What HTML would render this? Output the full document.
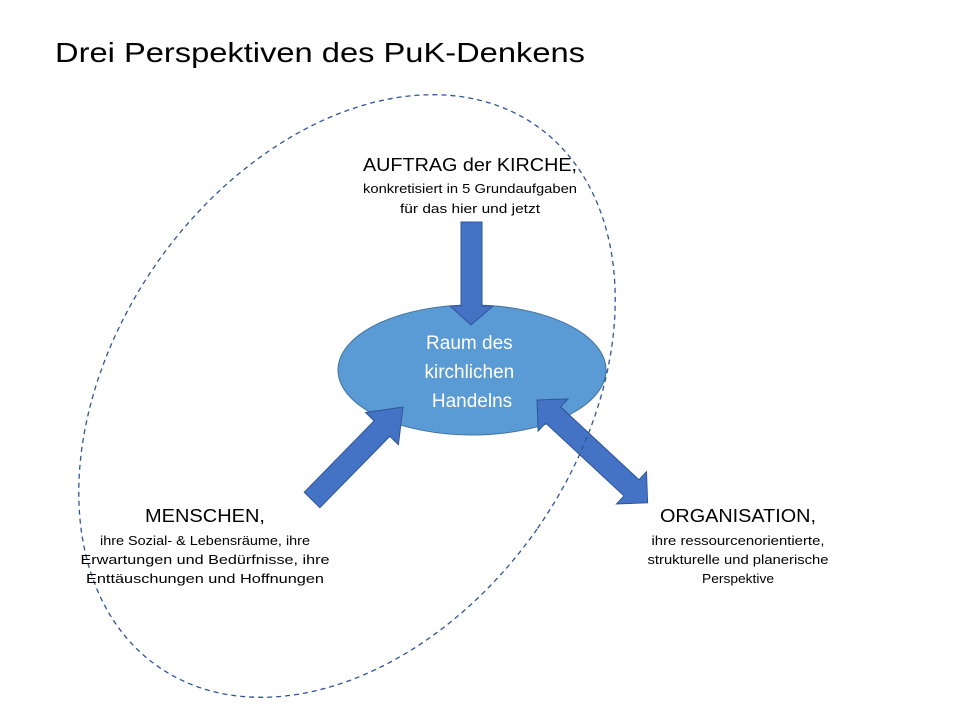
<!DOCTYPE html>
<html><head><meta charset="utf-8"><style>
html,body{margin:0;padding:0;background:#fff;width:960px;height:720px;overflow:hidden;}
svg{display:block;font-family:"Liberation Sans",sans-serif;}
</style></head><body>
<svg width="960" height="720" viewBox="0 0 960 720" xmlns="http://www.w3.org/2000/svg">
<text x="55" y="62" font-size="28" fill="#000" textLength="530" lengthAdjust="spacingAndGlyphs">Drei Perspektiven des PuK-Denkens</text>
<ellipse cx="472" cy="370" rx="134" ry="65" fill="#5b9bd5" stroke="#41719c" stroke-width="1"/>
<text text-anchor="middle" fill="#fff" font-size="19">
<tspan x="472" y="349">Raum des</tspan>
<tspan x="472" y="378">kirchlichen</tspan>
<tspan x="472" y="407">Handelns</tspan>
</text>
<polygon points="461,222 482,222 482,306 493,306 471,325 450,306 461,306" fill="#4472c4" stroke="#2f5597" stroke-width="1"/>
<g transform="translate(312,500) rotate(-45.6)">
<polygon points="0,-11 100,-11 100,-23 130,0 100,23 100,11 0,11" fill="#4472c4" stroke="#2f5597" stroke-width="1"/>
</g>
<g transform="translate(537,400) rotate(42.9)">
<polygon points="0,0 22,-22 22,-11 129,-11 129,-22 151,0 129,22 129,11 22,11 22,22" fill="#4472c4" stroke="#2f5597" stroke-width="1"/>
</g>
<ellipse cx="347" cy="396" rx="232" ry="330" transform="rotate(35 347 396)" fill="none" stroke="#2f5597" stroke-width="1.3" stroke-dasharray="5,4"/>
<g text-anchor="middle" fill="#000" lengthAdjust="spacingAndGlyphs">
<text x="470" y="171" font-size="18" textLength="214" lengthAdjust="spacingAndGlyphs">AUFTRAG der KIRCHE,</text>
<text x="470" y="193" font-size="13" textLength="214" lengthAdjust="spacingAndGlyphs">konkretisiert in 5 Grundaufgaben</text>
<text x="470" y="213" font-size="13" textLength="140" lengthAdjust="spacingAndGlyphs">für das hier und jetzt</text>
<text x="205" y="522" font-size="18" textLength="120" lengthAdjust="spacingAndGlyphs">MENSCHEN,</text>
<text x="205" y="545" font-size="13" textLength="210" lengthAdjust="spacingAndGlyphs">ihre Sozial- &amp; Lebensräume, ihre</text>
<text x="205" y="564" font-size="13" textLength="249" lengthAdjust="spacingAndGlyphs">Erwartungen und Bedürfnisse, ihre</text>
<text x="205" y="583" font-size="13" textLength="238" lengthAdjust="spacingAndGlyphs">Enttäuschungen und Hoffnungen</text>
<text x="738" y="522" font-size="18" textLength="156" lengthAdjust="spacingAndGlyphs">ORGANISATION,</text>
<text x="738" y="545" font-size="13" textLength="173" lengthAdjust="spacingAndGlyphs">ihre ressourcenorientierte,</text>
<text x="738" y="564" font-size="13" textLength="181" lengthAdjust="spacingAndGlyphs">strukturelle und planerische</text>
<text x="738" y="583" font-size="13" textLength="72" lengthAdjust="spacingAndGlyphs">Perspektive</text>
</g>
</svg>
</body></html>
